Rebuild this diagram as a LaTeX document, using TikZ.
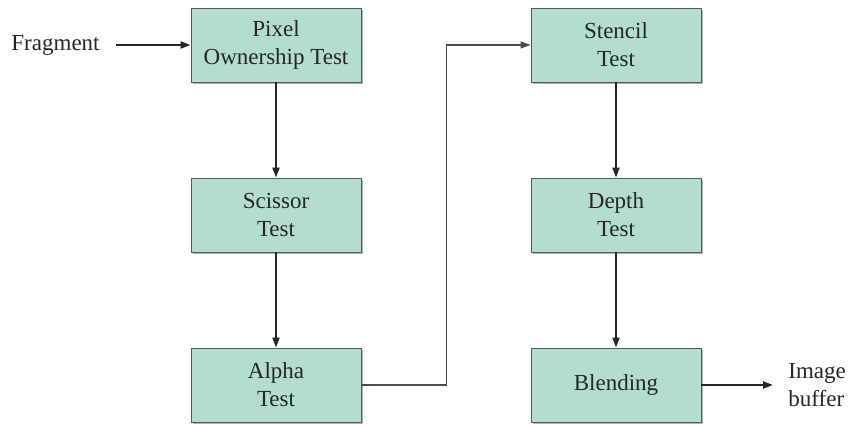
\documentclass[tikz,border=0pt]{standalone}
\usepackage{fontspec}
\setmainfont{Liberation Serif}
\usetikzlibrary{arrows.meta,shadows}
\definecolor{testgreen}{HTML}{B3DDCF}
\begin{document}
\begin{tikzpicture}[x=0.5pt,y=0.5pt,
  test/.style={draw=black!65,fill=testgreen,minimum width=85pt,minimum height=37pt,
    align=center,text=black!85,font=\fontsize{11.5}{14}\selectfont,
    drop shadow={shadow xshift=1pt,shadow yshift=-1pt,fill=black,opacity=.3}},
  label/.style={inner sep=0pt,text=black!85,font=\fontsize{11.5}{14}\selectfont},
  flow/.style={line width=1pt,draw=black!85,-{Triangle[length=5pt,width=3.5pt]}}]
\useasboundingbox (0,0) rectangle (850,427);
\foreach \name/\x/\y/\txt in {pixel/276/382/{Pixel\\Ownership Test},
    scissor/276/212/{Scissor\\Test}, alpha/276/42/{Alpha\\Test},
    stencil/616/382/{Stencil\\Test}, depth/616/212/{Depth\\Test},
    blending/616/42/{Blending}}
  \node[test] (\name) at (\x,\y) {\txt};
\node[label,anchor=east] (frag) at (100,382) {Fragment};
\node[label,anchor=west,align=left] (image) at (788,42) {Image\\buffer};
\draw[flow] ([xshift=8pt]frag.east) -- (pixel.west);
\foreach \a/\b in {pixel/scissor,scissor/alpha,stencil/depth,depth/blending}
  \draw[flow] (\a) -- (\b);
\draw[black!70,line width=0.6pt,-{Triangle[length=5pt,width=3.5pt]}]
  (alpha.east) -- ++(85,0) |- (stencil.west);
\draw[flow] (blending.east) -- ([xshift=-7.5pt]image.west);
\end{tikzpicture}
\end{document}
